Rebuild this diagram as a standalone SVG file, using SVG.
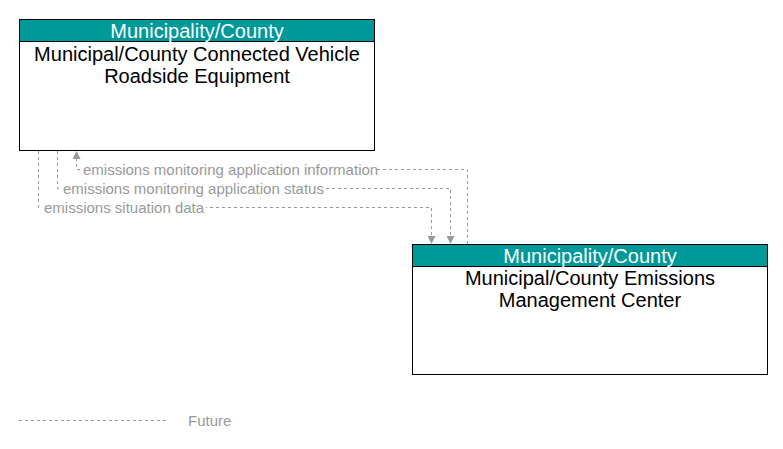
<svg xmlns="http://www.w3.org/2000/svg" width="783" height="449" viewBox="0 0 783 449">
<style>
.box{fill:#fff;stroke:#000;stroke-width:1}
.hdr{fill:#009999;stroke:#000;stroke-width:1}
.ht{font-family:"Liberation Sans",Arial,sans-serif;font-size:20px;fill:#fff;text-anchor:middle}
.bt{font-family:"Liberation Sans",Arial,sans-serif;font-size:20px;fill:#000;text-anchor:middle}
.ln{fill:none;stroke:#999;stroke-width:1;stroke-dasharray:3,3}
.lt{font-family:"Liberation Sans",Arial,sans-serif;font-size:15px;fill:#999}
</style>
<defs><marker id="a" markerWidth="8" markerHeight="8" refX="8" refY="4" orient="auto" markerUnits="userSpaceOnUse"><path d="M0,0L8,4L0,8Z" fill="#999"/></marker></defs>
<rect width="783" height="449" fill="#fff"/>
<g id="rse">
<rect class="box" x="19.5" y="19.5" width="355" height="131"/>
<rect class="hdr" x="19.5" y="19.5" width="355" height="22"/>
<text class="ht" x="197" y="38">Municipality/County</text>
<text class="bt" x="197" y="61">Municipal/County Connected Vehicle</text>
<text class="bt" x="197" y="83">Roadside Equipment</text>
</g>
<g id="emc">
<rect class="box" x="412.5" y="244.5" width="355" height="130"/>
<rect class="hdr" x="412.5" y="244.5" width="355" height="22"/>
<text class="ht" x="590" y="263">Municipality/County</text>
<text class="bt" x="590" y="285">Municipal/County Emissions</text>
<text class="bt" x="590" y="307">Management Center</text>
</g>
<g id="connectors">
<path class="ln" d="M467.5,244 V169.5 H76.5 V151" marker-end="url(#a)"/>
<path class="ln" d="M57.5,151 V188.5 H450.5 V244" marker-end="url(#a)"/>
<path class="ln" d="M38.5,151 V207.5 H431.5 V244" marker-end="url(#a)"/>
<rect x="81" y="161" width="296" height="16" fill="#fff"/>
<text class="lt" x="83" y="175">emissions monitoring application information</text>
<rect x="61" y="180" width="264" height="16" fill="#fff"/>
<text class="lt" x="63" y="194">emissions monitoring application status</text>
<rect x="42" y="199" width="164" height="16" fill="#fff"/>
<text class="lt" x="44" y="213">emissions situation data</text>
</g>
<g id="legend">
<line class="ln" x1="19" y1="420.5" x2="166" y2="420.5"/>
<text class="lt" x="188" y="426">Future</text>
</g>
</svg>
